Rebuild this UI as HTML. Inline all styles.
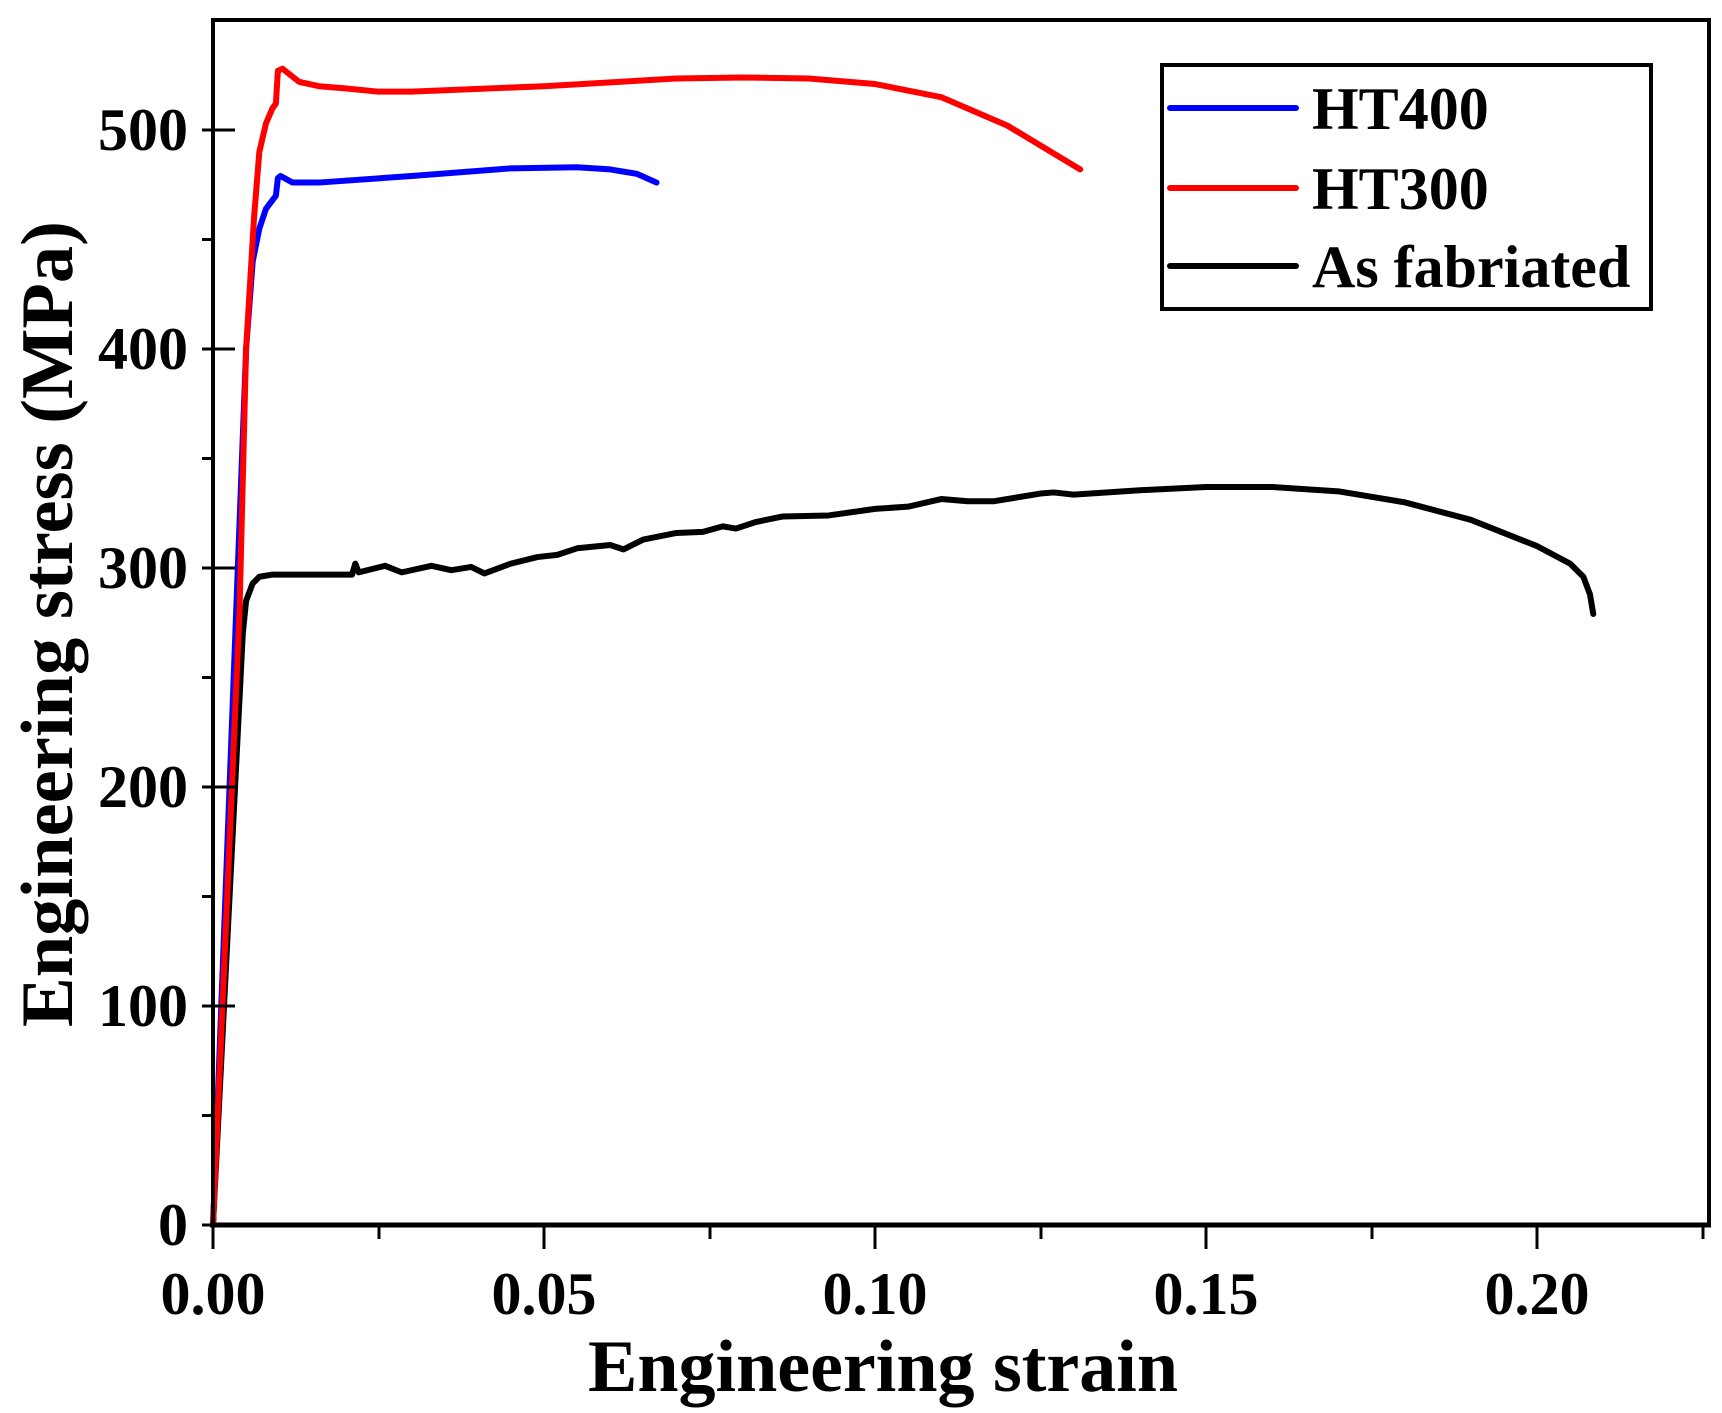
<!DOCTYPE html>
<html><head><style>body{margin:0;background:#fff}svg{display:block}</style></head>
<body>
<svg width="1722" height="1413" viewBox="0 0 1722 1413" xmlns="http://www.w3.org/2000/svg" font-family="Liberation Serif, serif" font-weight="bold">
<rect width="1722" height="1413" fill="#fff"/>
<g transform="translate(213,1225) scale(6620,-2.19)" fill="none" stroke-linejoin="round" stroke-linecap="round">
<polyline vector-effect="non-scaling-stroke" stroke="#000" stroke-width="6" points="0,0 0.004,240 0.0045,270 0.005,285 0.006,293 0.007,296 0.009,297 0.021,297 0.0215,302 0.022,298 0.026,301 0.0285,298 0.033,301 0.036,299 0.039,300.5 0.041,297.5 0.045,302 0.049,305 0.052,306 0.055,309 0.06,310.5 0.062,308.5 0.065,313 0.07,316 0.074,316.5 0.077,319 0.079,318 0.082,321 0.086,323.5 0.093,324 0.1,327 0.105,328 0.11,331.5 0.114,330.5 0.118,330.5 0.125,334 0.127,334.5 0.13,333.5 0.14,335.5 0.15,337 0.16,337 0.17,335 0.18,330 0.19,322 0.2,310 0.205,302 0.207,296 0.208,288 0.2085,279"/>
<polyline vector-effect="non-scaling-stroke" stroke="#00f" stroke-width="6" points="0,0 0.005,400 0.006,440 0.007,455 0.008,464 0.009,468 0.0095,470 0.0098,478 0.0102,479 0.012,476 0.016,476 0.03,479 0.045,482.5 0.055,483 0.06,482 0.064,480 0.067,476"/>
<polyline vector-effect="non-scaling-stroke" stroke="#f00" stroke-width="6" points="0,0 0.004,280 0.005,400 0.0062,460 0.007,490 0.008,503 0.009,510 0.0095,512 0.0098,527 0.0105,528 0.013,522 0.016,520 0.02,519 0.025,517.5 0.03,517.5 0.05,520 0.07,523.5 0.08,524 0.09,523.5 0.1,521 0.11,515 0.12,502 0.131,482"/>
</g>
<g stroke="#000" fill="none">
<rect x="213" y="20" width="1496" height="1205" stroke-width="4"/>
<path stroke-width="5" d="M210,1225H1711"/>
<g stroke-width="3">
<path d="M213,1225v24M544,1225v24M875,1225v24M1206,1225v24M1537,1225v24"/>
<path d="M379,1225v14M710,1225v14M1041,1225v14M1372,1225v14M1703,1225v14"/>
<path d="M202,1225h33M202,1006h33M202,787h33M202,568h33M202,349h33M202,130h33"/>
<path d="M202,1115.5h11M202,896.5h11M202,677.5h11M202,458.5h11M202,239.5h11"/>
</g>
</g>
<g font-size="60" fill="#000" text-anchor="end">
<text x="188" y="1245">0</text><text x="188" y="1026">100</text><text x="188" y="807">200</text>
<text x="188" y="588">300</text><text x="188" y="369">400</text><text x="188" y="150">500</text>
</g>
<g font-size="60" fill="#000" text-anchor="middle">
<text x="213" y="1314">0.00</text><text x="544" y="1314">0.05</text><text x="875" y="1314">0.10</text>
<text x="1206" y="1314">0.15</text><text x="1537" y="1314">0.20</text>
</g>
<text x="588" y="1391" font-size="74" textLength="590" lengthAdjust="spacingAndGlyphs">Engineering strain</text>
<text transform="translate(72,1027) rotate(-90)" font-size="74" textLength="806" lengthAdjust="spacingAndGlyphs">Engineering stress (MPa)</text>
<rect x="1162" y="65" width="489" height="244" fill="#fff" stroke="#000" stroke-width="4"/>
<g stroke-width="6" stroke-linecap="round">
<line x1="1170" y1="108" x2="1296" y2="108" stroke="#00f"/>
<line x1="1170" y1="188" x2="1296" y2="188" stroke="#f00"/>
<line x1="1170" y1="266" x2="1296" y2="266" stroke="#000"/>
</g>
<g font-size="60" fill="#000">
<text x="1312" y="129">HT400</text>
<text x="1312" y="209">HT300</text>
<text x="1312" y="287">As fabriated</text>
</g>
</svg>
</body></html>
